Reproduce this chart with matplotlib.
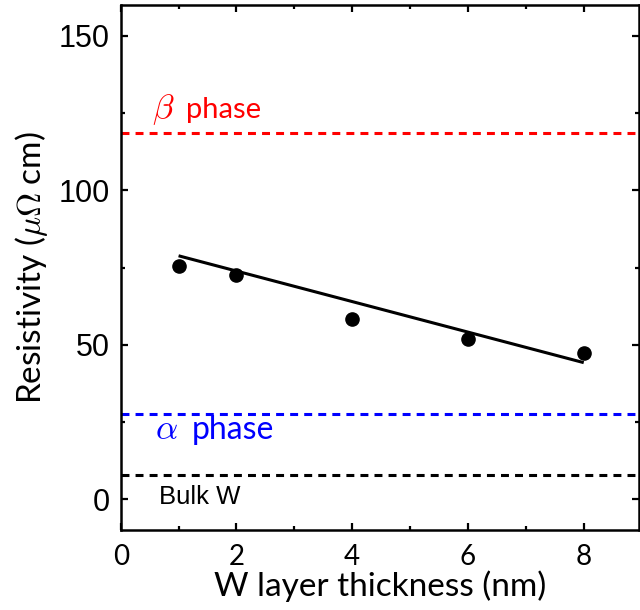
import matplotlib
matplotlib.use('Agg')
import matplotlib.pyplot as plt
from matplotlib.ticker import MultipleLocator

plt.rcParams['mathtext.fontset'] = 'cm'

# datos
espesor = [1, 2, 4, 6, 8]
resistividad = [75.5, 72.7, 58.4, 51.8, 47.4]

# recta de ajuste (extremos)
ajuste_x = [1, 8]
ajuste_y = [78.8, 44.2]

# niveles de referencia
beta_fase = 118.5
alfa_fase = 27.6
bulk_w = 7.8

fig = plt.figure(figsize=(6.4, 6.1), dpi=100)
ax = fig.add_axes([0.1886, 0.1311, 0.8094, 0.8607])

lw_dash = 2.2
ax.axhline(beta_fase, color='#ff0000', lw=lw_dash, linestyle=(0, (2.6, 2.0)))
ax.axhline(alfa_fase, color='#0000ff', lw=lw_dash, linestyle=(0, (2.6, 2.0)))
ax.axhline(bulk_w, color='black', lw=lw_dash, linestyle=(0, (2.6, 2.0)))

ax.plot(ajuste_x, ajuste_y, color='black', lw=2.2, solid_capstyle='butt')
ax.plot(espesor, resistividad, 'o', color='black', markersize=9.5)

# etiquetas de las fases
ax.text(0.54, 123.5, r'$\beta$', color='#ff0000', fontsize=25)
ax.text(1.13, 123.5, 'phase', color='#ff0000', fontsize=21, family='Lato')
ax.text(0.6, 19.6, r'$\alpha$', color='#0000ff', fontsize=25)
ax.text(1.22, 19.6, 'phase', color='#0000ff', fontsize=23, family='Lato')
ax.text(0.67, -1.5, 'Bulk W', color='black', fontsize=18.5, family='Liberation Sans')

ax.set_xlim(0, 8.95)
ax.set_ylim(-10, 160)
ax.xaxis.set_major_locator(MultipleLocator(2))
ax.xaxis.set_minor_locator(MultipleLocator(1))
ax.yaxis.set_major_locator(MultipleLocator(50))
ax.yaxis.set_minor_locator(MultipleLocator(25))

ax.tick_params(which='both', direction='in', top=True, right=True, width=1.6)
ax.tick_params(which='major', length=5)
ax.tick_params(which='minor', length=3)
ax.tick_params(axis='x', pad=10)
ax.tick_params(axis='y', pad=8)

for lab in ax.get_xticklabels():
    lab.set_fontfamily('Lato')
    lab.set_fontsize(20)
for lab in ax.get_yticklabels():
    lab.set_fontfamily('Liberation Sans')
    lab.set_fontsize(22)

for s in ax.spines.values():
    s.set_linewidth(1.8)

ax.set_xlabel('W layer thickness (nm)', fontsize=24, family='Lato', labelpad=0)
ax.set_ylabel(r'Resistivity ($\mu\Omega$ cm)', fontsize=24, family='Lato', labelpad=6)

fig.savefig('out.png', dpi=100)
